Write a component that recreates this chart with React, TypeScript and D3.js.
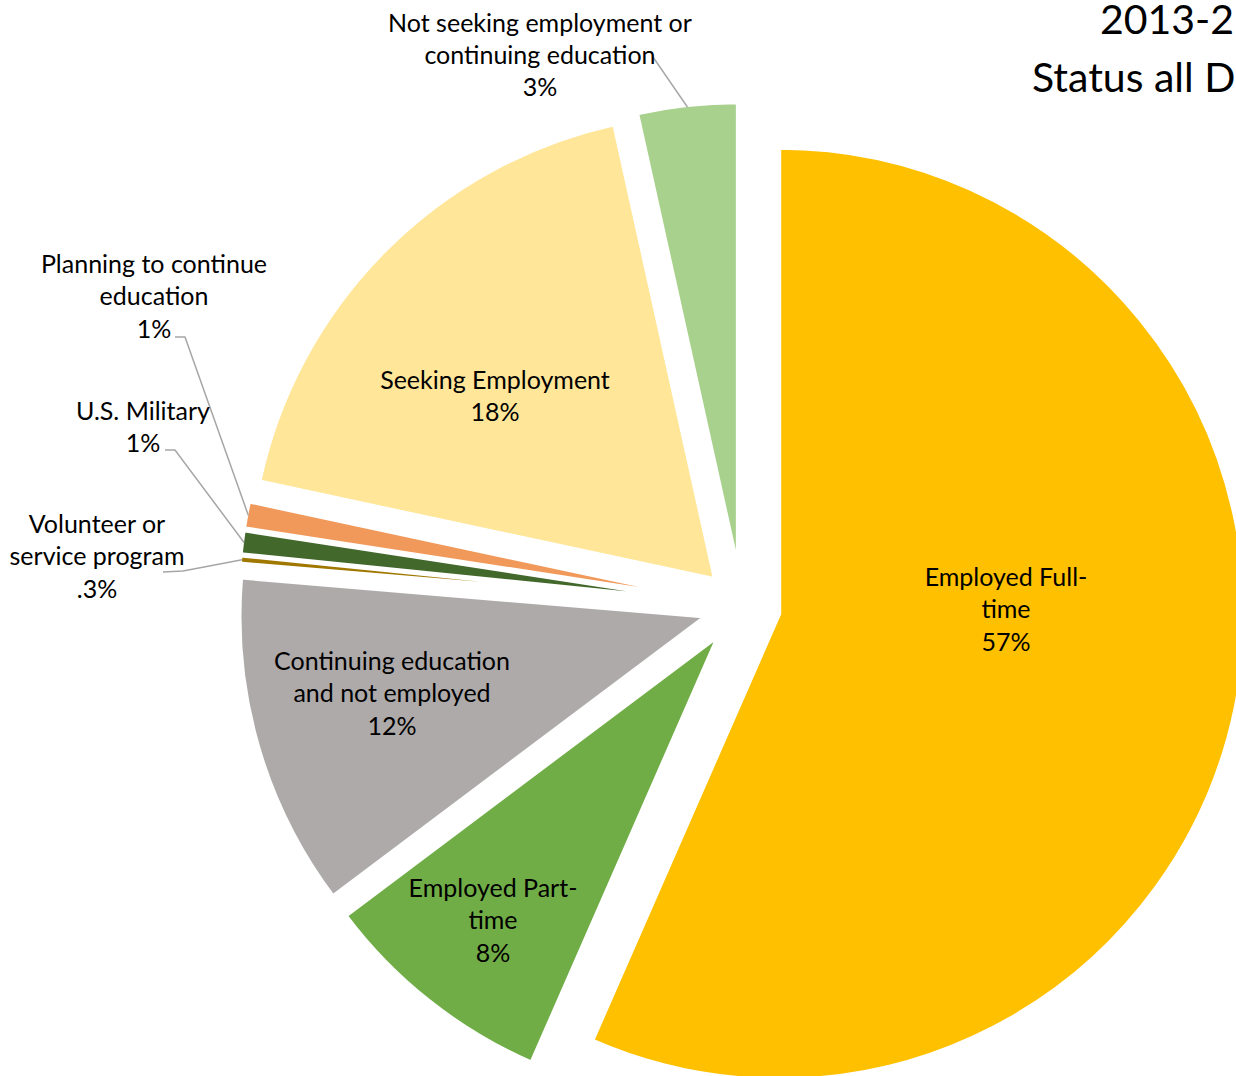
import React from "react";
import * as d3 from "d3";

// ---------- data ----------
const categories = [
  "Employed Full-time",
  "Employed Part-time",
  "Continuing education and not employed",
  "Volunteer or service program",
  "U.S. Military",
  "Planning to continue education",
  "Seeking Employment",
  "Not seeking employment or continuing education",
];
const values = [56.57, 8.18, 11.58, 0.28, 0.82, 0.93, 18.17, 3.47];
const pctLabels = ["57%", "8%", "12%", ".3%", "1%", "1%", "18%", "3%"];
const labelLines = [
  ["Employed Full-", "time"],
  ["Employed Part-", "time"],
  ["Continuing education", "and not employed"],
  ["Volunteer or", "service program"],
  ["U.S. Military"],
  ["Planning to continue", "education"],
  ["Seeking Employment"],
  ["Not seeking employment or", "continuing education"],
];
const titleLines = ["2013-2", "Status all D"];

// ---------- styles / layout ----------
const colors = ["#FFC000", "#70AD47", "#AEAAAA", "#A07800", "#43682B", "#F1995B", "#FFE699", "#A9D18E"];
const W = 1236;
const H = 1076;
const CX = 742;
const CY = 606;
const R = 466;
const EXPLODE = 38;
const FONT = "Lato, 'Open Sans', sans-serif";
const LABEL_SIZE = 25;
const LINE_H = 32.4;
const TITLE_SIZE = 41;
// label anchor (center x, first baseline y)
const labelPos: [number, number][] = [
  [1006, 586],
  [493, 897],
  [392, 670],
  [97, 533],
  [143, 420],
  [154, 273],
  [495, 389],
  [540, 31.5],
];
// leader line start points near the label (null = no leader)
const leaderStart: ([number, number][] | null)[] = [
  null,
  null,
  null,
  [[163, 572], [183, 571]],
  [[165, 450], [175, 450]],
  [[175, 337], [185, 337]],
  null,
  [[653, 57]],
];

export default function App() {
  const pie = d3.pie<number>().sort(null).value((d) => d);
  const arcs = pie(values);
  const arcGen = d3.arc<d3.PieArcDatum<number>>().innerRadius(0).outerRadius(R);

  const slices = arcs.map((a, i) => {
    const mid = (a.startAngle + a.endAngle) / 2;
    const ox = CX + EXPLODE * Math.sin(mid);
    const oy = CY - EXPLODE * Math.cos(mid);
    const edge: [number, number] = [ox + (R - 2) * Math.sin(mid), oy - (R - 2) * Math.cos(mid)];
    return { a, i, ox, oy, edge };
  });

  return (
    <svg
      width={W}
      height={H}
      viewBox={`0 0 ${W} ${H}`}
      style={{ position: "absolute", left: 0, top: 0, background: "#fff", overflow: "hidden" }}
    >
      <rect x={0} y={0} width={W} height={H} fill="#fff" />
      {slices.map((s) => (
        <path
          key={categories[s.i]}
          d={arcGen(s.a) || ""}
          transform={`translate(${s.ox},${s.oy})`}
          fill={colors[s.i]}
          stroke="#fff"
          strokeWidth={4}
        />
      ))}
      {slices.map((s) => {
        const st = leaderStart[s.i];
        if (!st) return null;
        const pts = [...st, s.edge];
        const line = d3.line()(pts as [number, number][]);
        return <path key={"l" + s.i} d={line || ""} fill="none" stroke="#A6A6A6" strokeWidth={1.5} />;
      })}
      {slices.map((s) => {
        const [x, y] = labelPos[s.i];
        const lines = [...labelLines[s.i], pctLabels[s.i]];
        return (
          <text key={"t" + s.i} x={x} y={y} textAnchor="middle" fontFamily={FONT} fontSize={LABEL_SIZE} fill="#000">
            {lines.map((ln, k) => (
              <tspan key={k} x={x} y={y + k * LINE_H}>
                {ln}
              </tspan>
            ))}
          </text>
        );
      })}
      <text fontFamily={FONT} fontSize={TITLE_SIZE} fill="#000">
        <tspan x={1100} y={33.5}>{titleLines[0]}</tspan>
        <tspan x={1032} y={92}>{titleLines[1]}</tspan>
      </text>
    </svg>
  );
}
